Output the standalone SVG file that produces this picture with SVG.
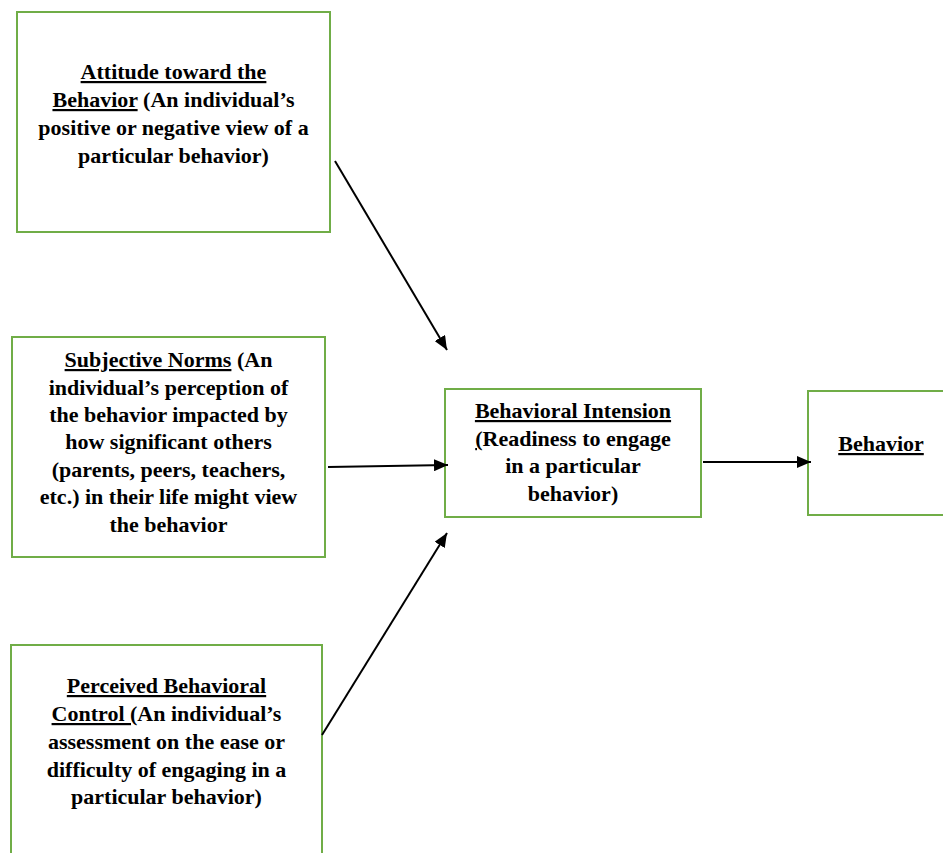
<svg xmlns="http://www.w3.org/2000/svg" width="943" height="853" viewBox="0 0 943 853">
<defs>
<style>
.box{fill:#fff;stroke:#70AD47;stroke-width:2}
.t{font-family:"Liberation Serif","Times New Roman",serif;font-weight:bold;font-size:22px;fill:#000;text-anchor:middle}
.u{text-decoration:underline}
.c{stroke:#000;stroke-width:2;fill:none;marker-end:url(#ah)}
</style>
<marker id="ah" viewBox="0 0 14 12" refX="14" refY="6" markerWidth="14" markerHeight="12" markerUnits="userSpaceOnUse" orient="auto">
<path d="M0,0 L14,6 L0,12 z" fill="#000"/>
</marker>
</defs>
<rect width="943" height="853" fill="#fff"/>
<g id="attitude">
<rect class="box" x="17" y="12" width="313" height="220"/>
<text class="t"><tspan x="173.5" y="79" class="u">Attitude toward the</tspan><tspan x="173.5" y="107"><tspan class="u">Behavior</tspan> (An individual’s</tspan><tspan x="173.5" y="135">positive or negative view of a</tspan><tspan x="173.5" y="163">particular behavior)</tspan></text>
</g>
<g id="norms">
<rect class="box" x="12" y="337" width="313" height="220"/>
<text class="t"><tspan x="168.5" y="367"><tspan class="u">Subjective Norms</tspan> (An</tspan><tspan x="168.5" y="395">individual’s perception of</tspan><tspan x="168.5" y="422">the behavior impacted by</tspan><tspan x="168.5" y="449">how significant others</tspan><tspan x="168.5" y="477">(parents, peers, teachers,</tspan><tspan x="168.5" y="504">etc.) in their life might view</tspan><tspan x="168.5" y="532">the behavior</tspan></text>
</g>
<g id="control">
<rect class="box" x="11" y="645" width="311" height="230"/>
<text class="t"><tspan x="166.5" y="693" class="u">Perceived Behavioral</tspan><tspan x="166.5" y="721"><tspan class="u">Control (</tspan>An individual’s</tspan><tspan x="166.5" y="749">assessment on the ease or</tspan><tspan x="166.5" y="777">difficulty of engaging in a</tspan><tspan x="166.5" y="804">particular behavior)</tspan></text>
</g>
<g id="intension">
<rect class="box" x="445" y="389" width="256" height="128"/>
<text class="t"><tspan x="573" y="418" class="u">Behavioral Intension</tspan><tspan x="573" y="446"><tspan class="u">(</tspan>Readiness to engage</tspan><tspan x="573" y="473">in a particular</tspan><tspan x="573" y="501">behavior)</tspan></text>
</g>
<g id="behavior">
<rect class="box" x="808" y="391" width="150" height="124"/>
<text class="t"><tspan x="881" y="451" class="u">Behavior</tspan></text>
</g>
<g id="connectors">
<line class="c" x1="335" y1="161" x2="447" y2="350"/>
<line class="c" x1="328" y1="467" x2="448" y2="465"/>
<line class="c" x1="322" y1="735" x2="447" y2="533"/>
<line class="c" x1="703" y1="462" x2="811" y2="462"/>
</g>
</svg>
